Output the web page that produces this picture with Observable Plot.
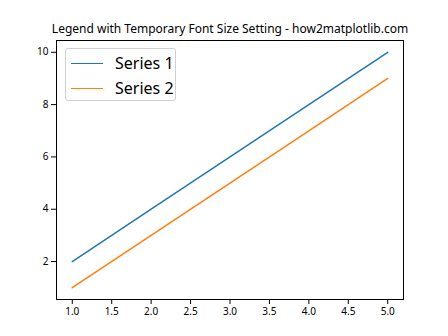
<!DOCTYPE html>
<html>
<head>
<meta charset="utf-8">
<script src="https://cdn.jsdelivr.net/npm/d3@7"></script>
<script src="https://cdn.jsdelivr.net/npm/@observablehq/plot@0.6"></script>
<style>
  body { margin: 0; background: #fff; }
  #wrap { position: relative; width: 448px; height: 336px; font-family: "Noto Sans", "Open Sans", sans-serif; }
  #legend { position: absolute; left: 65px; top: 48px; width: 111px; height: 53px; border: 1px solid #d0d0d0; border-radius: 3px; background: rgba(255,255,255,0.8); box-sizing: border-box; }
  .entry { position: absolute; left: 0; height: 24px; display: flex; align-items: center; font-size: 16px; color: #000; }
  .entry .sw { display: inline-block; width: 32px; height: 0; border-top: 1.5px solid; margin-left: 5px; margin-right: 12px; }
</style>
</head>
<body>
<div id="wrap"></div>
<script>
const title = "Legend with Temporary Font Size Setting - how2matplotlib.com";
const xValues = [1, 2, 3, 4, 5];
const series1 = [2, 4, 6, 8, 10];
const series2 = [1, 3, 5, 7, 9];
const seriesNames = ["Series 1", "Series 2"];
const seriesColors = ["#1f77b4", "#ff7f0e"];
const xTicks = [1.0, 1.5, 2.0, 2.5, 3.0, 3.5, 4.0, 4.5, 5.0];
const yTicks = [2, 4, 6, 8, 10];

const rows = [
  ...xValues.map((x, i) => ({x, y: series1[i], s: seriesNames[0]})),
  ...xValues.map((x, i) => ({x, y: series2[i], s: seriesNames[1]}))
];

const chart = Plot.plot({
  width: 448,
  height: 336,
  marginLeft: 56,
  marginRight: 45,
  marginTop: 40,
  marginBottom: 37,
  style: { fontFamily: '"Noto Sans", "Open Sans", sans-serif', fontSize: "10px", color: "#000", background: "#fff" },
  x: { domain: [0.8, 5.2], ticks: xTicks, tickFormat: d3.format(".1f"), tickSize: 5, tickPadding: 3, label: null },
  y: { domain: [0.55, 10.45], ticks: yTicks, tickSize: 5, tickPadding: 3, label: null },
  color: { domain: seriesNames, range: seriesColors },
  marks: [
    Plot.line(rows, { x: "x", y: "y", z: "s", stroke: "s", strokeWidth: 1.5 }),
    Plot.frame({ stroke: "#000", strokeWidth: 1 }),
    Plot.text([title], { frameAnchor: "top", lineAnchor: "middle", dy: -11, text: d => d, fontSize: 12, fill: "#000" })
  ]
});
const wrap = document.getElementById("wrap");
wrap.appendChild(chart);

const legend = document.createElement("div");
legend.id = "legend";
seriesNames.forEach((name, i) => {
  const e = document.createElement("div");
  e.className = "entry";
  e.style.top = (2 + i * 25) + "px";
  const sw = document.createElement("span");
  sw.className = "sw";
  sw.style.borderColor = seriesColors[i];
  e.appendChild(sw);
  e.appendChild(document.createTextNode(name));
  legend.appendChild(e);
});
wrap.appendChild(legend);
</script>
</body>
</html>
